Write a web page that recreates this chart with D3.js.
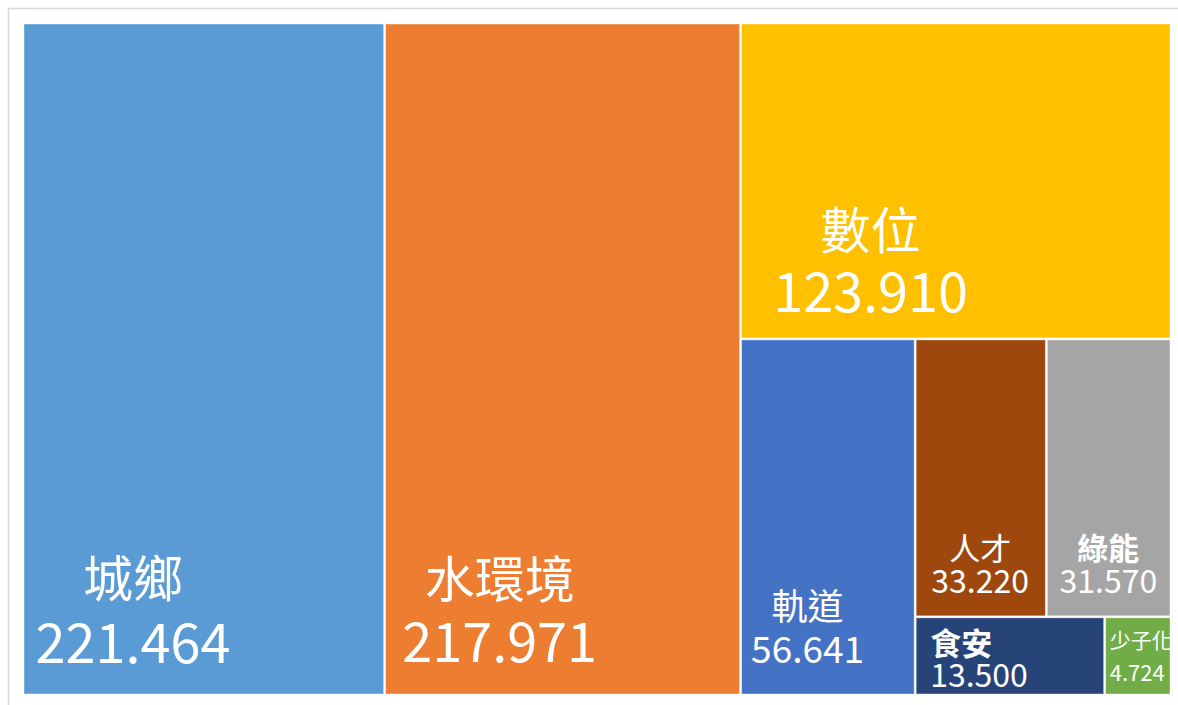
<!DOCTYPE html>
<html>
<head>
<meta charset="utf-8">
<script src="https://cdn.jsdelivr.net/npm/d3@7"></script>
<style>
  html, body { margin: 0; padding: 0; background: #fff; }
  svg { display: block; }
</style>
</head>
<body>
<script>
// Data
const categories = ["城鄉", "水環境", "數位", "軌道", "人才", "綠能", "食安", "少子化"];
const values = [221.464, 217.971, 123.910, 56.641, 33.220, 31.570, 13.500, 4.724];
const colors = ["#5B9BD5", "#ED7D31", "#FFC000", "#4472C4", "#9E480E", "#A5A5A5", "#264478", "#70AD47"];

// How many items go into each strip of the layout (Excel's grouping)
const stripSizes = [1, 1, 1, 1, 2, 2];

// Label placement relative to each cell (x from left edge, y from bottom edge)
const labelStyle = [
  { anchor: "middle", dx: 109, nameDy: -97, numDy: -31, nameSize: 50, numSize: 54, bold: false },
  { anchor: "middle", dx: 114, nameDy: -96, numDy: -32, nameSize: 50, numSize: 54, bold: false },
  { anchor: "middle", dx: 129, nameDy: -89, numDy: -26, nameSize: 50, numSize: 54, bold: false },
  { anchor: "middle", dx: 66, nameDy: -74, numDy: -31, nameSize: 36, numSize: 37, bold: false },
  { anchor: "middle", dx: 64, nameDy: -56, numDy: -23, nameSize: 31, numSize: 32, bold: false },
  { anchor: "middle", dx: 61, nameDy: -56, numDy: -23, nameSize: 31, numSize: 32, bold: true },
  { anchor: "start", dx: 14, nameDy: -39, numDy: -7, nameSize: 31, numSize: 32, bold: true },
  { anchor: "start", dx: 4, nameDy: -46, numDy: -13, nameSize: 21, numSize: 22, bold: false }
];

const W = 1178, H = 705;
const margin = { top: 24, left: 24, right: 8, bottom: 11 };
const width = W - margin.left - margin.right;
const height = H - margin.top - margin.bottom;

// Strip tiling: each strip runs along the shorter side of the remaining area,
// the last strip fills what is left and lays its items along the longer side
function stripTile(parent, x0, y0, x1, y1) {
  const nodes = parent.children;
  let remaining = parent.value;
  let i = 0;
  stripSizes.forEach(k => {
    if (i >= nodes.length) return;
    const kids = nodes.slice(i, i + k);
    const sum = d3.sum(kids, d => d.value);
    const row = { children: kids, value: sum };
    const last = i + k >= nodes.length;
    if (last) {
      if (x1 - x0 >= y1 - y0) d3.treemapDice(row, x0, y0, x1, y1);
      else d3.treemapSlice(row, x0, y0, x1, y1);
    } else if (x1 - x0 >= y1 - y0) {
      const xm = x0 + (x1 - x0) * sum / remaining;
      d3.treemapSlice(row, x0, y0, xm, y1);
      x0 = xm;
    } else {
      const ym = y0 + (y1 - y0) * sum / remaining;
      d3.treemapDice(row, x0, y0, x1, ym);
      y0 = ym;
    }
    remaining -= sum;
    i += k;
  });
}

const rows = categories.map((c, i) => ({ name: c, value: values[i], idx: i }));
const root = d3.hierarchy({ children: rows }).sum(d => d.value || 0);

d3.treemap()
  .tile(stripTile)
  .size([width, height])
  .paddingInner(2)
  .round(false)(root);

const svg = d3.select("body").append("svg")
  .attr("width", W)
  .attr("height", H);

// chart frame
svg.append("rect")
  .attr("x", 8.5).attr("y", 8.5)
  .attr("width", W + 10).attr("height", H + 10)
  .attr("fill", "none")
  .attr("stroke", "#d9d9d9")
  .attr("stroke-width", 1.5);

const g = svg.append("g")
  .attr("transform", `translate(${margin.left},${margin.top})`);

const defs = svg.append("defs");

const cell = g.selectAll("g.cell")
  .data(root.leaves())
  .enter().append("g")
  .attr("class", "cell");

cell.append("rect")
  .attr("x", d => d.x0)
  .attr("y", d => d.y0)
  .attr("width", d => d.x1 - d.x0)
  .attr("height", d => d.y1 - d.y0)
  .attr("fill", d => colors[d.data.idx])
  .attr("stroke", "#ffffff")
  .attr("stroke-opacity", 0.5)
  .attr("stroke-width", 0.8);

cell.each(function(d) {
  defs.append("clipPath")
    .attr("id", "clip" + d.data.idx)
    .append("rect")
    .attr("x", d.x0).attr("y", d.y0)
    .attr("width", d.x1 - d.x0).attr("height", d.y1 - d.y0);
});

const labels = cell.append("g")
  .attr("clip-path", d => `url(#clip${d.data.idx})`);

labels.append("text")
  .attr("x", d => d.x0 + labelStyle[d.data.idx].dx)
  .attr("y", d => d.y1 + labelStyle[d.data.idx].nameDy)
  .attr("text-anchor", d => labelStyle[d.data.idx].anchor)
  .attr("font-family", "'Noto Sans CJK TC', 'Noto Sans', sans-serif")
  .attr("font-size", d => labelStyle[d.data.idx].nameSize)
  .attr("font-weight", d => labelStyle[d.data.idx].bold ? "bold" : "normal")
  .attr("fill", "#ffffff")
  .text(d => d.data.name);

labels.append("text")
  .attr("x", d => d.x0 + labelStyle[d.data.idx].dx)
  .attr("y", d => d.y1 + labelStyle[d.data.idx].numDy)
  .attr("text-anchor", d => labelStyle[d.data.idx].anchor)
  .attr("font-family", "'Noto Sans CJK TC', 'Noto Sans', sans-serif")
  .attr("font-size", d => labelStyle[d.data.idx].numSize)
  .attr("fill", "#ffffff")
  .text(d => d3.format(".3f")(d.data.value));
</script>
</body>
</html>
